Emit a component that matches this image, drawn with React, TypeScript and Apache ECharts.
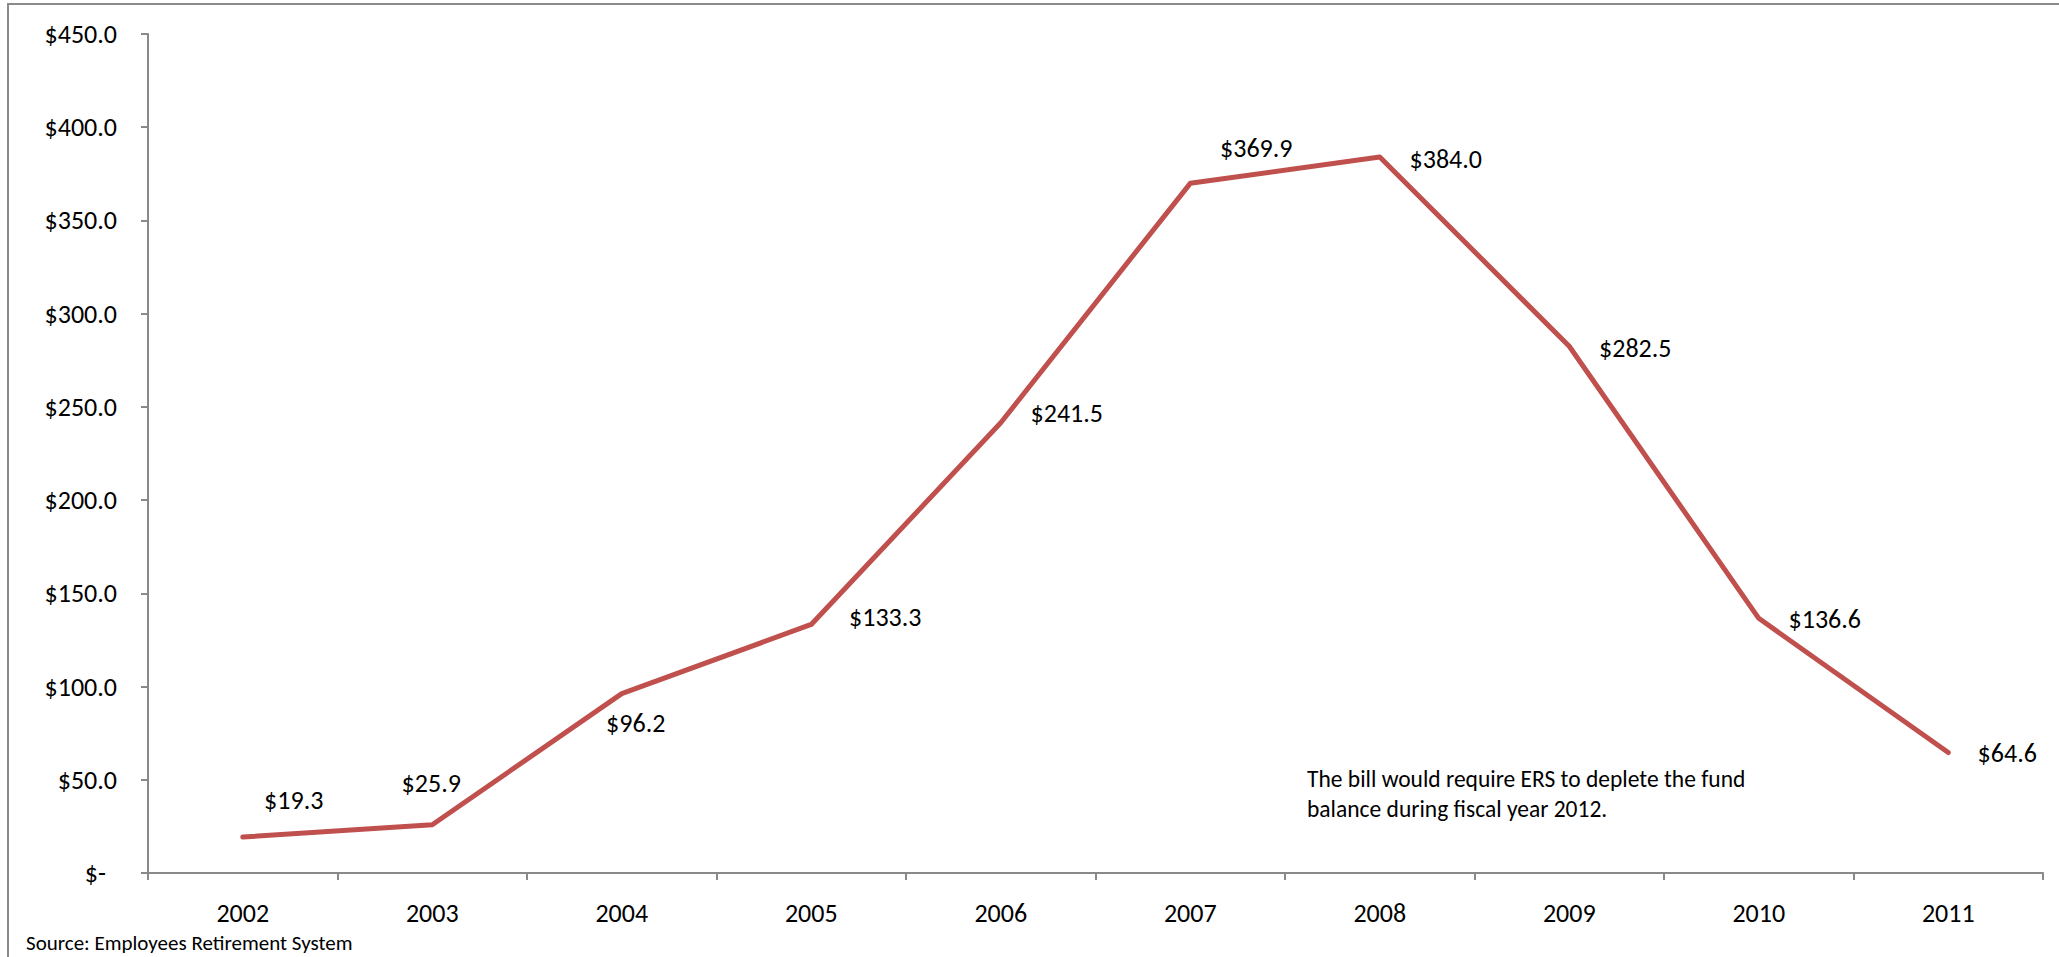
import React, { useEffect, useRef } from "react";
import * as echarts from "echarts";

const categories = ["2002", "2003", "2004", "2005", "2006", "2007", "2008", "2009", "2010", "2011"];
const balances = [19.3, 25.9, 96.2, 133.3, 241.5, 369.9, 384.0, 282.5, 136.6, 64.6];
const yTicks = { min: 0, max: 450, interval: 50 };
const noteText = "The bill would require ERS to deplete the fund\nbalance during fiscal year 2012.";
const sourceText = "Source: Employees Retirement System";

// label placement offsets (layout only, px from each point)
const labelOffsets: [number, number][] = [
  [51, -37], [-1, -42], [14, 29], [74, -7], [66, -10],
  [66, -35], [66, 2], [66, 2], [66, 1], [59, 0],
];

const FONT = "Carlito, Lato, 'Open Sans', sans-serif";

export default function App() {
  const ref = useRef<HTMLDivElement>(null);
  useEffect(() => {
    if (!ref.current) return;
    const chart = echarts.init(ref.current, undefined, { renderer: "svg" });
    chart.setOption({
      animation: false,
      backgroundColor: "#ffffff",
      textStyle: { fontFamily: FONT },
      grid: { left: 148, top: 34, right: 16, bottom: 84, containLabel: false },
      xAxis: {
        type: "category",
        data: categories,
        boundaryGap: true,
        axisLine: { lineStyle: { color: "#898989", width: 2 } },
        axisTick: { show: true, length: 7, lineStyle: { color: "#898989", width: 2 } },
        axisLabel: { color: "#000", fontSize: 26, fontFamily: FONT, margin: 27 },
        splitLine: { show: false },
      },
      yAxis: {
        type: "value",
        min: yTicks.min,
        max: yTicks.max,
        interval: yTicks.interval,
        axisLine: { show: true, lineStyle: { color: "#898989", width: 2 } },
        axisTick: { show: true, length: 7, lineStyle: { color: "#898989", width: 2 } },
        splitLine: { show: false },
        axisLabel: {
          color: "#000",
          fontSize: 26,
          fontFamily: FONT,
          margin: 31,
          formatter: (v: number) => (v === 0 ? "{z|$-}" : "$" + v.toFixed(1)),
          rich: { z: { fontSize: 26, fontFamily: FONT, color: "#000", padding: [0, 11, 0, 0] } },
        },
      },
      series: [
        {
          type: "line",
          data: balances.map((v, i) => ({
            value: v,
            label: { offset: labelOffsets[i] },
          })),
          symbol: "circle",
          symbolSize: 2,
          itemStyle: { color: "#C0504D" },
          lineStyle: { color: "#C0504D", width: 5, cap: "round", join: "round" },
          label: {
            show: true,
            position: "inside",
            color: "#000",
            fontSize: 26,
            fontFamily: FONT,
            formatter: (p: any) => "$" + Number(p.value).toFixed(1),
          },
        },
      ],
      graphic: [
        {
          type: "rect",
          shape: { x: 8, y: 4, width: 2200, height: 1100 },
          style: { fill: "none", stroke: "#8a8a8a", lineWidth: 2 },
          silent: true,
          z: -1,
        },
        {
          type: "text",
          x: 1307,
          y: 764,
          style: { text: noteText, fontSize: 23.5, fontFamily: FONT, fill: "#000", lineHeight: 30, verticalAlign: "top" },
        },
        {
          type: "text",
          x: 26,
          y: 943,
          style: { text: sourceText, fontSize: 21, fontFamily: FONT, fill: "#000", verticalAlign: "middle" },
        },
      ],
    });
    return () => chart.dispose();
  }, []);
  return <div ref={ref} style={{ position: "fixed", left: 0, top: 0, width: 2059, height: 957 }} />;
}
